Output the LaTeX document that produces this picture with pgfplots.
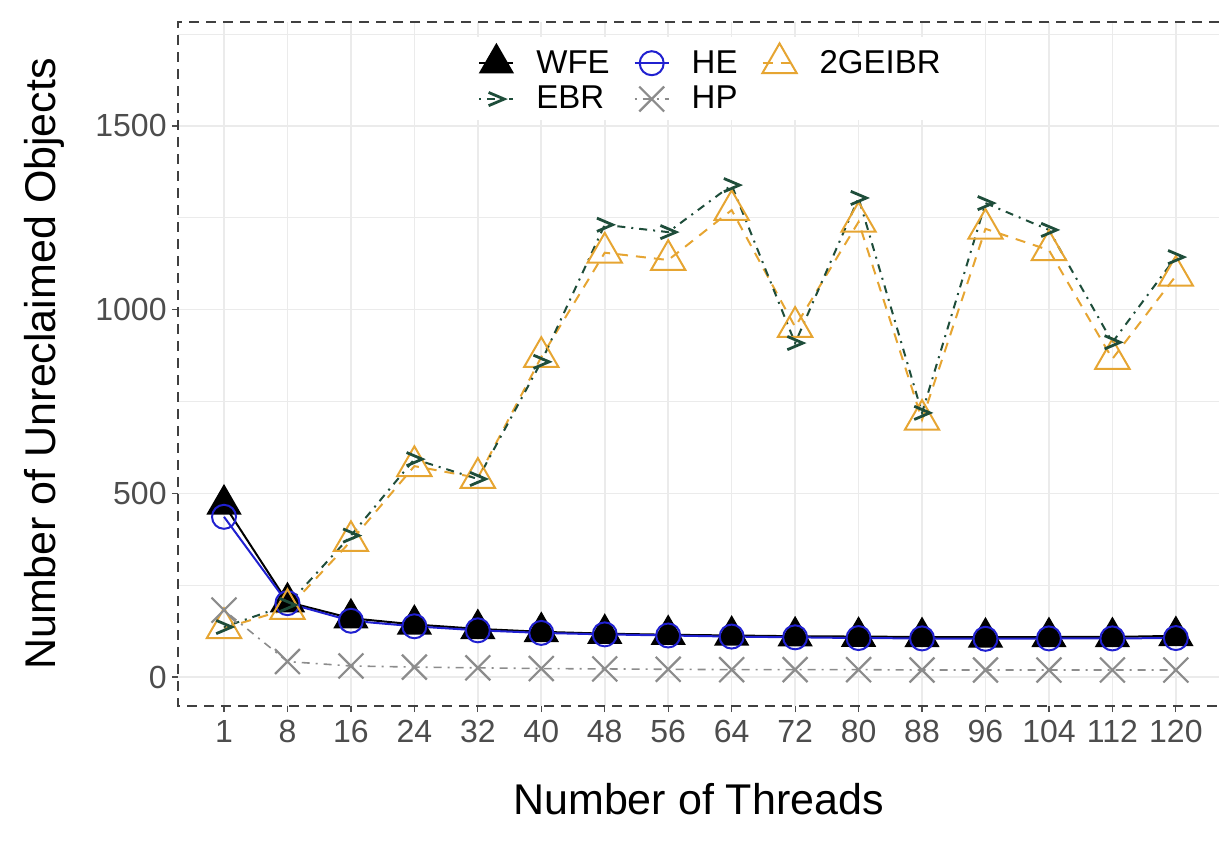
\documentclass[border=0pt]{standalone}
\usepackage{fontspec}
\setmainfont{Liberation Sans}
\usepackage{pgfplots}
\pgfplotsset{compat=1.18}

\definecolor{ebr}{HTML}{1E4D3A}
\definecolor{geibr}{HTML}{E6A532}
\definecolor{he}{HTML}{2020D0}
\definecolor{hp}{HTML}{8C8C8C}
\definecolor{ticktxt}{HTML}{4D4D4D}
\definecolor{gridc}{HTML}{EBEBEB}

% ggplot's ">" point shape
\pgfdeclareplotmark{chev}{%
  \pgfpathmoveto{\pgfqpoint{-\pgfplotmarksize}{0.85\pgfplotmarksize}}%
  \pgfpathlineto{\pgfqpoint{\pgfplotmarksize}{0pt}}%
  \pgfpathlineto{\pgfqpoint{-\pgfplotmarksize}{-0.85\pgfplotmarksize}}%
  \pgfusepathqstroke}

% x index: 0=1, 1=8, 2=16, ... 15=120 threads
\pgfplotstableread{
x   wfe  he   geibr ebr  hp
0   470  436  133   136  182
1   204  201  185   196  42
2   160  153  370   385  30
3   143  138  574   593  27
4   131  127  542   539  25
5   123  120  871   858  23
6   118  116  1155  1231 22
7   115  113  1135  1211 21
8   113  110  1271  1339 20
9   111  108  953   909  20
10  110  106  1239  1304 20
11  109  105  700   719  19
12  108  104  1220  1290 19
13  109  105  1162  1217 19
14  109  105  866   911  19
15  112  106  1092  1143 19
}\threads

\begin{document}
\begin{tikzpicture}
\useasboundingbox (0,0) rectangle (609.5pt,421.5pt);
\begin{axis}[
  at={(89pt,68.5pt)}, anchor=south west,
  scale only axis, width=520.5pt, height=342pt,
  xmin=-0.725, xmax=15.68, ymin=-79, ymax=1783,
  clip=false,
  axis line style={draw=none},
  xtick={0,...,15},
  xticklabels={1,8,16,24,32,40,48,56,64,72,80,88,96,104,112,120},
  ytick={0,500,1000,1500},
  minor ytick={250,750,1250,1750},
  xtick pos=bottom, ytick pos=left,
  grid=both,
  major grid style={gridc, line width=0.8pt},
  minor grid style={gridc, line width=0.5pt},
  tick align=outside,
  major tick length=3pt, minor tick length=0pt,
  tick style={ticktxt, line width=0.6pt},
  /pgf/number format/assume math mode=true,
  /pgf/number format/1000 sep={},
  tick label style={font=\fontsize{16}{19}\selectfont, text=ticktxt},
  yticklabel style={anchor=east, inner sep=0pt, xshift=-2.5pt},
  xticklabel style={anchor=north, inner sep=0pt, yshift=-4pt},
  xlabel={Number of Threads},
  ylabel={Number of Unreclaimed Objects},
  label style={font=\fontsize{21.5}{25}\selectfont},
  xlabel style={at={(axis description cs:0.5,-0.1579)}, anchor=base},
  ylabel style={at={(axis description cs:-0.1172,0.5)}, anchor=base},
  legend columns=3,
  legend cell align=left,
  legend style={at={(0.5,1)}, anchor=north, xshift=6pt, yshift=-7.5pt,
    draw=none, fill=white,
    font=\fontsize{16.5}{19.8}\selectfont,
    inner xsep=6pt, inner ysep=3pt,
    nodes={inner sep=1pt},
    row sep=3pt,
    /tikz/every odd column/.append style={column sep=10pt},
    /tikz/every even column/.append style={column sep=11pt}},
  legend image code/.code={\draw[mark repeat=2,mark phase=2,#1]
    plot coordinates {(0pt,0pt) (8.5pt,0pt) (17pt,0pt)};},
]
\addplot[black, line width=1pt, mark=triangle*, mark size=9.2pt,
  mark options={solid, fill=black}] table[x=x, y=wfe] {\threads};
\addlegendentry{WFE}
\addplot[he, line width=1pt, mark=o, mark size=6pt,
  mark options={solid, line width=1pt}] table[x=x, y=he] {\threads};
\addlegendentry{HE}
\addplot[geibr, line width=1pt, dash pattern=on 5pt off 4pt, mark=triangle, mark size=9.9pt,
  mark options={solid, line width=1pt}] table[x=x, y=geibr] {\threads};
\addlegendentry{2GEIBR}
\addplot[ebr, line width=1pt, dash pattern=on 1pt off 3pt on 4pt off 3pt, mark=chev, mark size=3.9pt,
  mark options={solid, line width=1.4pt}] table[x=x, y=ebr] {\threads};
\addlegendentry{EBR}
\addplot[hp, line width=0.8pt, dash pattern=on 1pt off 3pt on 4pt off 3pt, mark=x, mark size=8.8pt,
  mark options={solid, line width=1.1pt}] table[x=x, y=hp] {\threads};
\addlegendentry{HP}
\draw[black!75, line width=1pt, dash pattern=on 5pt off 3.5pt]
  (rel axis cs:1,1) -- (rel axis cs:0,1) -- (rel axis cs:0,0) -- (rel axis cs:1,0);
\end{axis}
\end{tikzpicture}
\end{document}
